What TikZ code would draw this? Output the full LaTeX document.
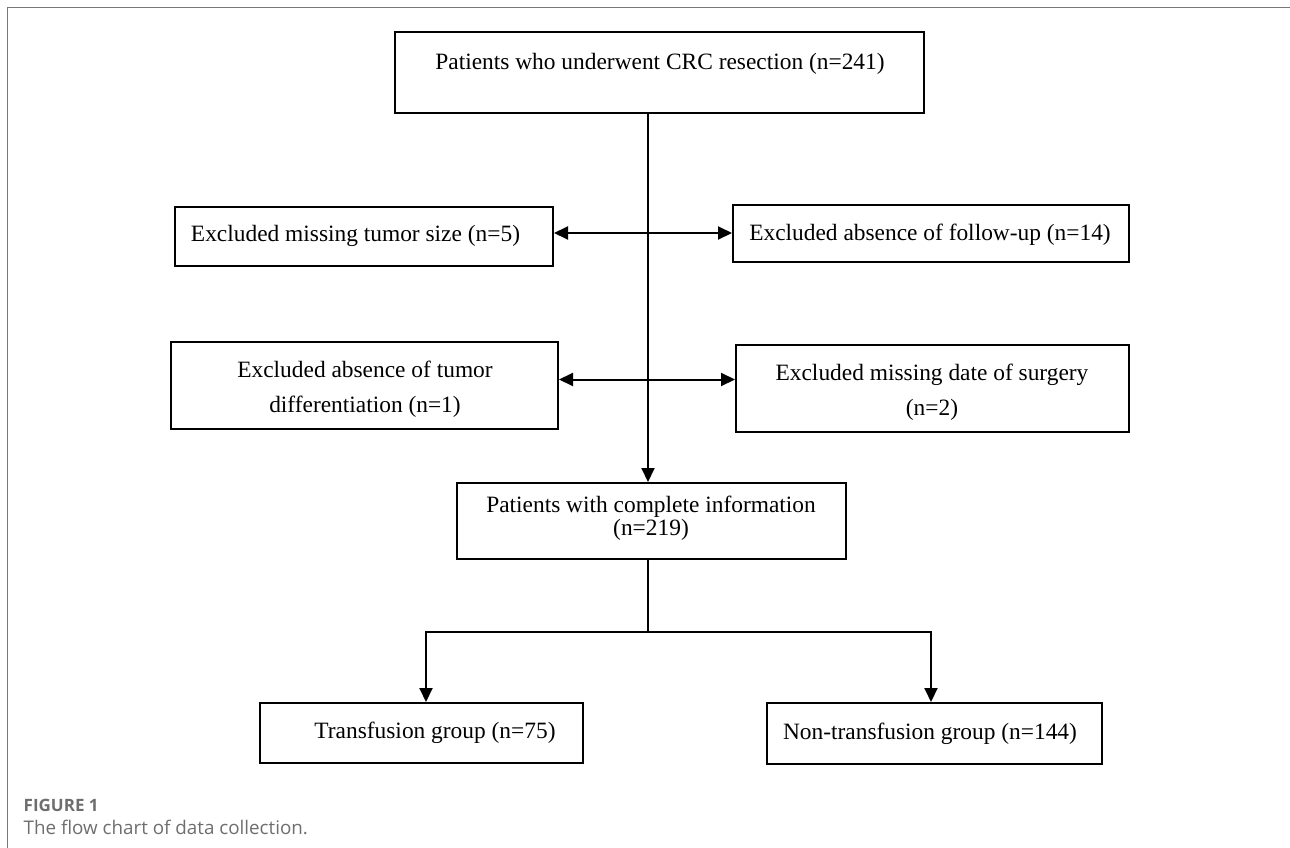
\documentclass[tikz,border=0pt]{standalone}
\usepackage{fontspec}
\setmainfont{Liberation Serif}
\newfontfamily\capfont{Open Sans}
\usetikzlibrary{arrows.meta}
\definecolor{framegray}{RGB}{120,120,120}
\definecolor{capgray}{RGB}{110,110,110}
\begin{document}
\begin{tikzpicture}[x=1pt,y=-1pt,
  box/.style 2 args={draw=black,line width=2pt,inner sep=0pt,minimum width=#1pt,minimum height=#2pt},
  txt/.style={font=\fontsize{23.4}{35}\selectfont,align=center,inner sep=0pt},
  tighttxt/.style={font=\fontsize{23.4}{23}\selectfont,align=center,inner sep=0pt},
  conn/.style={line width=2pt},
  arr/.style={conn,-{Triangle[length=14pt,width=13pt]}},
  darr/.style={conn,{Triangle[length=14pt,width=13pt]}-{Triangle[length=14pt,width=13pt]}},
  captxt/.style={font=\capfont\fontsize{18.8}{22}\selectfont,text=capgray,anchor=west,inner sep=0pt},
  caphead/.style={font=\capfont\bfseries\fontsize{17}{20}\selectfont,text=capgray,anchor=west,inner sep=0pt}
]
\useasboundingbox (0,0) rectangle (1290,848);
% frame
\draw[framegray,line width=1.3pt] (7.3,848) -- (7.3,7.3) -- (1290,7.3);

% boxes
\node[box={529}{81}] (top) at (659.5,72.5) {};
\node[txt] (toptext) at (660,64) {Patients who underwent CRC resection (n=241)};

\node[box={378}{59}] (tl) at (364,236.5) {};
\node[txt] (tltext) at (355.5,236) {Excluded missing tumor size (n=5)};

\node[box={396}{57}] (tr) at (931,233.5) {};
\node[txt] (trtext) at (930,235) {Excluded absence of follow-up (n=14)};

\node[box={387}{87}] (ml) at (364.5,385.5) {};
\node[txt] (mltext) at (365,389) {Excluded absence of tumor\\differentiation (n=1)};

\node[box={393}{87}] (mr) at (932.5,388.5) {};
\node[txt] (mrtext) at (932,392) {Excluded missing date of surgery\\(n=2)};

\node[box={389}{76}] (mid) at (651.5,521) {};
\node[tighttxt] (midtext) at (651,518) {Patients with complete information\\(n=219)};

\node[box={323}{60}] (bl) at (421.5,733) {};
\node[txt] (bltext) at (435,733) {Transfusion group (n=75)};

\node[box={335}{61}] (br) at (934.5,733.5) {};
\node[txt] (brtext) at (930,734) {Non-transfusion group (n=144)};

% helper coordinates
\coordinate (spine) at (648,0);
\coordinate (row1) at (0,233);
\coordinate (row2) at (0,379.5);
\coordinate (busL) at (426,632);
\coordinate (busR) at (931,632);

% connectors
\draw[arr] (top.south -| spine) -- (mid.north -| spine);
\draw[darr] (tl.east |- row1) -- (tr.west |- row1);
\draw[darr] (ml.east |- row2) -- (mr.west |- row2);
\draw[conn] (mid.south -| spine) -- (busL -| spine);
\draw[arr] (busL -| spine) -- (busL) -- (busL |- bl.north);
\draw[arr] (busR -| spine) -- (busR) -- (busR |- br.north);

% caption
\node[caphead] (figlabel) at (23.5,805) {FIGURE 1};
\node[captxt] (caption) at (23.5,827) {The flow chart of data collection.};
\end{tikzpicture}
\end{document}
